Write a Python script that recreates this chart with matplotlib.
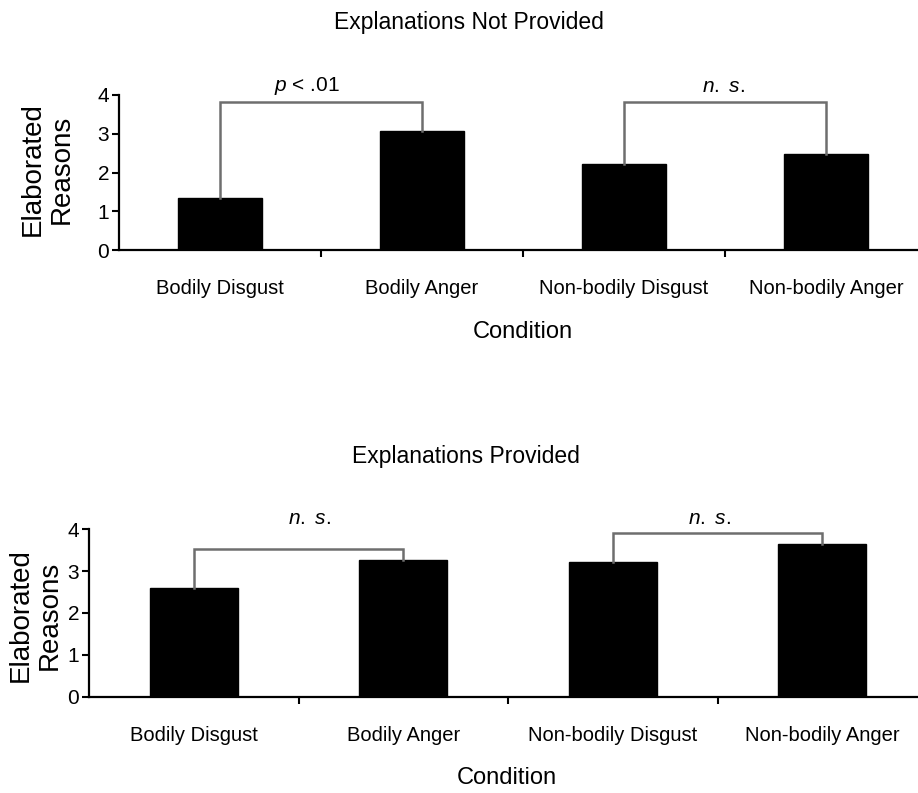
import matplotlib.pyplot as plt

plt.rcParams['font.family'] = ['Liberation Sans', 'DejaVu Sans']
plt.rcParams['mathtext.fontset'] = 'custom'
plt.rcParams['mathtext.it'] = 'Liberation Sans:italic'
plt.rcParams['mathtext.rm'] = 'Liberation Sans'

conditions = ['Bodily Disgust', 'Bodily Anger', 'Non-bodily Disgust', 'Non-bodily Anger']
not_provided = [1.35, 3.07, 2.21, 2.47]
provided = [2.59, 3.27, 3.21, 3.65]

# brackets: (left bar, right bar, height, label)
brackets_top = [(0, 1, 3.82, '$p$ < .01'), (2, 3, 3.82, '$n.\\ s.$')]
brackets_bottom = [(0, 1, 3.52, '$n.\\ s.$'), (2, 3, 3.91, '$n.\\ s.$')]

fig = plt.figure(figsize=(9.18, 7.93), dpi=100)


def draw_panel(ax, values, brackets, text_x, text_y):
    x = range(len(values))
    ax.bar(x, values, width=0.42, color='black', edgecolor='black')
    for (a, b, h, lab), tx in zip(brackets, text_x):
        ax.plot([a, a, b, b], [values[a], h, h, values[b]], color='#6e6e6e', lw=1.8,
                solid_joinstyle='miter', clip_on=False)
        ax.text(tx, text_y, lab, ha='center', va='center', fontsize=15, clip_on=False)
    ax.set_xlim(-0.5, 3.5)
    ax.set_ylim(0, 4)
    ax.set_yticks([0, 1, 2, 3, 4])
    ax.set_xticks(list(x))
    ax.set_xticklabels(conditions, fontsize=14.5)
    ax.set_xticks([0.5, 1.5, 2.5], minor=True)
    ax.tick_params(axis='x', which='major', length=0, pad=21)
    ax.tick_params(axis='x', which='minor', length=5, width=1.5, direction='out')
    ax.tick_params(axis='y', length=5, width=1.5, labelsize=15, pad=2)
    for s in ['top', 'right']:
        ax.spines[s].set_visible(False)
    for s in ['left', 'bottom']:
        ax.spines[s].set_linewidth(1.6)


ax1 = fig.add_axes([119 / 918, 1 - 250 / 793, 808 / 918, 155 / 793])
draw_panel(ax1, not_provided, brackets_top, [0.43, 2.49], 4.23)

ax2 = fig.add_axes([89 / 918, 1 - 696.7 / 793, 838 / 918, 167.4 / 793])
draw_panel(ax2, provided, brackets_bottom, [0.55, 2.46], 4.27)

fig.text(469 / 918, 1 - 23 / 793, 'Explanations Not Provided', ha='center', va='center', fontsize=16.5)
fig.text(466 / 918, 1 - 456 / 793, 'Explanations Provided', ha='center', va='center', fontsize=16.5)
fig.text(523 / 918, 1 - 332 / 793, 'Condition', ha='center', va='center', fontsize=17)
fig.text(507 / 918, 1 - 778 / 793, 'Condition', ha='center', va='center', fontsize=17)
fig.text(47 / 918, 1 - 169 / 793, 'Elaborated\nReasons', rotation=90, ha='center', va='center',
         fontsize=20, linespacing=1.15)
fig.text(35 / 918, 1 - 615 / 793, 'Elaborated\nReasons', rotation=90, ha='center', va='center',
         fontsize=20, linespacing=1.15)

fig.savefig('out.png', dpi=100)
